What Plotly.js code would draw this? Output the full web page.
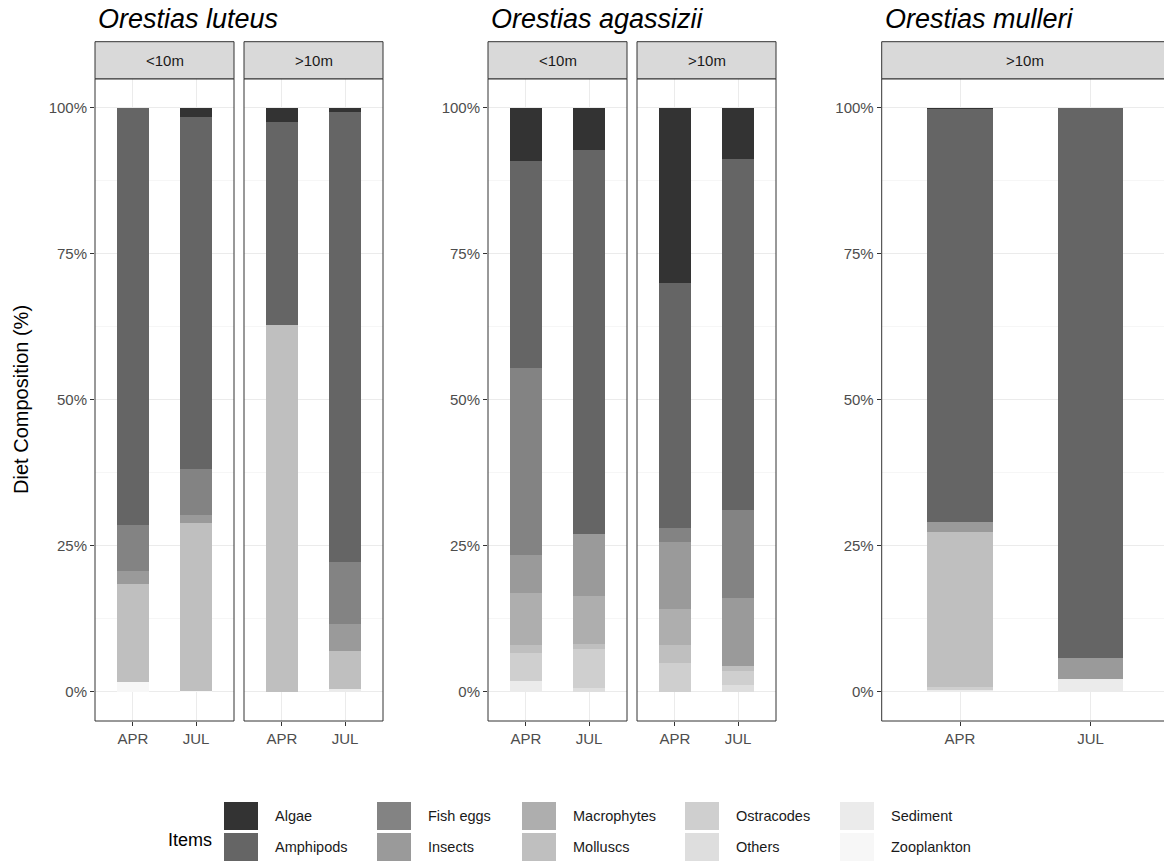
<!DOCTYPE html>
<html>
<head>
<meta charset="utf-8">
<script src="https://cdn.plot.ly/plotly-3.0.1.min.js"></script>
<style>
  html, body { margin: 0; padding: 0; background: #ffffff; }
  #chart { width: 1164px; height: 867px; }
</style>
</head>
<body>
<div id="chart"></div>
<script>
// ---- data ----
const months = ['APR', 'JUL'];
const items = ['Algae', 'Amphipods', 'Fish eggs', 'Insects', 'Macrophytes',
               'Molluscs', 'Ostracodes', 'Others', 'Sediment', 'Zooplankton'];
const itemColors = ['#333333', '#656565', '#838383', '#9a9a9a', '#aeaeae',
                    '#bfbfbf', '#cfcfcf', '#dedede', '#ebebeb', '#f7f7f7'];
const speciesNames = ['Orestias luteus', 'Orestias agassizii', 'Orestias mulleri'];
const depthLabels = ['<10m', '>10m', '<10m', '>10m', '>10m'];
const yTickVals = [0, 25, 50, 75, 100];
const yTickText = ['0%', '25%', '50%', '75%', '100%'];

// diet composition (%) per item, in the order of `items`
const luteusShallowApr    = [0,    71.35, 7.9,  2.25, 0,   16.9, 0,   0,   0,    1.6];
const luteusShallowJul    = [1.5,  60.3,  7.9,  1.4,  0,   28.7, 0,   0,   0,    0.2];
const luteusDeepApr       = [2.4,  34.7,  0,    0,    0,   62.9, 0,   0,   0,    0];
const luteusDeepJul       = [0.7,  77.0,  10.6, 4.7,  0,   6.5,  0,   0,   0.5,  0];
const agassiziiShallowApr = [9.1,  35.4,  32.0, 6.5,  8.9, 1.5,  4.8, 0,   1.8,  0];
const agassiziiShallowJul = [7.2,  65.7,  0,    10.7, 8.2, 0.8,  6.8, 0.6, 0,    0];
const agassiziiDeepApr    = [29.9, 42.0,  2.4,  11.5, 6.1, 3.2,  4.9, 0,   0,    0];
const agassiziiDeepJul    = [8.7,  60.1,  15.1, 11.7, 0,   0.8,  2.5, 1.1, 0,    0];
const mulleriDeepApr      = [0.15, 70.8,  0,    1.6,  0,   26.6, 0.6, 0,   0.25, 0];
const mulleriDeepJul      = [0,    94.2,  0,    3.6,  0,   0,    0,   0,   2.2,  0];

// ---- panel geometry (pixels) ----
const W = 1164, H = 867;
const FONT = 'Liberation Sans, Arial, Helvetica, sans-serif';
const panels = [
  { apr: luteusShallowApr,    jul: luteusShallowJul,    x0: 95,    x1: 234,  unit: 63.2,  yLabels: true },
  { apr: luteusDeepApr,       jul: luteusDeepJul,       x0: 244,   x1: 383,  unit: 63.2,  yLabels: false },
  { apr: agassiziiShallowApr, jul: agassiziiShallowJul, x0: 488,   x1: 627,  unit: 63.2,  yLabels: true },
  { apr: agassiziiDeepApr,    jul: agassiziiDeepJul,    x0: 637,   x1: 776,  unit: 63.2,  yLabels: false },
  { apr: mulleriDeepApr,      jul: mulleriDeepJul,      x0: 881.7, x1: 1164, unit: 130.5, yLabels: true }
];
const titleX = [95, 488, 881.7];
const plotTop = 78.8, plotBottom = 721, stripTop = 41.7;

const px = v => v / W;
const py = v => 1 - v / H;

const traces = [];
const layout = {
  width: W, height: H,
  margin: { l: 0, r: 0, t: 0, b: 0 },
  paper_bgcolor: '#ffffff',
  plot_bgcolor: '#ffffff',
  barmode: 'stack',
  showlegend: false,
  font: { family: FONT, color: '#4d4d4d', size: 15 },
  shapes: [],
  annotations: []
};

panels.forEach((p, k) => {
  const sfx = k === 0 ? '' : String(k + 1);
  // stacking starts at the bottom, so the last item goes first
  for (let i = items.length - 1; i >= 0; i--) {
    traces.push({
      type: 'bar',
      x: months,
      y: [p.apr[i], p.jul[i]],
      name: items[i],
      width: 0.5,
      marker: { color: itemColors[i], line: { width: 0 } },
      xaxis: 'x' + sfx,
      yaxis: 'y' + sfx,
      hovertemplate: items[i] + ': %{y:.1f}%<extra></extra>'
    });
  }
  const xEnd = -0.6 + (p.x1 - p.x0) / p.unit;
  layout['xaxis' + sfx] = {
    domain: [px(p.x0), px(p.x1)],
    anchor: 'y' + sfx,
    type: 'category',
    categoryorder: 'array',
    categoryarray: months,
    range: [-0.6, xEnd],
    showgrid: true, gridcolor: '#ebebeb', gridwidth: 1,
    zeroline: false, showline: false,
    ticks: 'outside', ticklen: 4, tickwidth: 1, tickcolor: '#333333',
    tickfont: { family: FONT, size: 15, color: '#4d4d4d' },
    fixedrange: true
  };
  layout['yaxis' + sfx] = {
    domain: [py(plotBottom), py(plotTop)],
    anchor: 'x' + sfx,
    range: [-5, 105],
    tickmode: 'array', tickvals: yTickVals, ticktext: yTickText,
    showticklabels: p.yLabels,
    ticks: p.yLabels ? 'outside' : '', ticklen: 4, tickwidth: 1, tickcolor: '#333333',
    tickfont: { family: FONT, size: 15, color: '#4d4d4d' },
    showgrid: true, gridcolor: '#ebebeb', gridwidth: 1,
    minor: { tickmode: 'array', tickvals: [12.5, 37.5, 62.5, 87.5], showgrid: true,
             gridcolor: '#f0f0f0', gridwidth: 0.6, ticks: '' },
    zeroline: false, showline: false,
    fixedrange: true
  };
  const right = k === 4 ? 1.01 : px(p.x1);
  // panel frame
  layout.shapes.push({
    type: 'rect', xref: 'paper', yref: 'paper', layer: 'above',
    x0: px(p.x0), x1: right, y0: py(plotBottom), y1: py(plotTop),
    line: { color: '#333333', width: 1 }, fillcolor: 'rgba(0,0,0,0)'
  });
  // facet strip
  layout.shapes.push({
    type: 'rect', xref: 'paper', yref: 'paper', layer: 'above',
    x0: px(p.x0), x1: right, y0: py(plotTop), y1: py(stripTop),
    line: { color: '#333333', width: 1 }, fillcolor: '#d9d9d9'
  });
  layout.annotations.push({
    xref: 'paper', yref: 'paper',
    x: px(p.x0 + p.unit * 1.1), y: py((stripTop + plotTop) / 2),
    text: depthLabels[k], showarrow: false,
    xanchor: 'center', yanchor: 'middle',
    font: { family: FONT, size: 15, color: '#1a1a1a' }
  });
});

// species titles
speciesNames.forEach((s, j) => {
  layout.annotations.push({
    xref: 'paper', yref: 'paper', x: px(titleX[j] + 1), y: py(19),
    text: '<i>' + s + '</i>', showarrow: false,
    xanchor: 'left', yanchor: 'middle',
    font: { family: FONT, size: 27, color: '#000000' }
  });
});

// y-axis title
layout.annotations.push({
  xref: 'paper', yref: 'paper', x: px(21), y: py((plotTop + plotBottom) / 2),
  text: 'Diet Composition (%)', showarrow: false, textangle: -90,
  xanchor: 'center', yanchor: 'middle',
  font: { family: FONT, size: 20, color: '#000000' }
});

// legend: two rows, filled column by column
const legendColLeft = [224, 377, 522, 685, 840];
const keyW = 34, keyH = 28, keyGap = 15, rowTop = [802, 833];
layout.annotations.push({
  xref: 'paper', yref: 'paper', x: px(214), y: py(840),
  text: 'Items', showarrow: false, xanchor: 'right', yanchor: 'middle',
  font: { family: FONT, size: 18, color: '#000000' }
});
items.forEach((name, i) => {
  const col = Math.floor(i / 2), row = i % 2;
  const kx = legendColLeft[col], ky = rowTop[row];
  layout.shapes.push({
    type: 'rect', xref: 'paper', yref: 'paper',
    x0: px(kx), x1: px(kx + keyW), y0: py(ky + keyH), y1: py(ky),
    line: { width: 0 }, fillcolor: itemColors[i]
  });
  layout.annotations.push({
    xref: 'paper', yref: 'paper', x: px(kx + keyW + keyGap), y: py(ky + keyH / 2),
    text: name, showarrow: false, xanchor: 'left', yanchor: 'middle',
    font: { family: FONT, size: 14.5, color: '#1a1a1a' }
  });
});

Plotly.newPlot('chart', traces, layout, { displayModeBar: false, staticPlot: true });
</script>
</body>
</html>
